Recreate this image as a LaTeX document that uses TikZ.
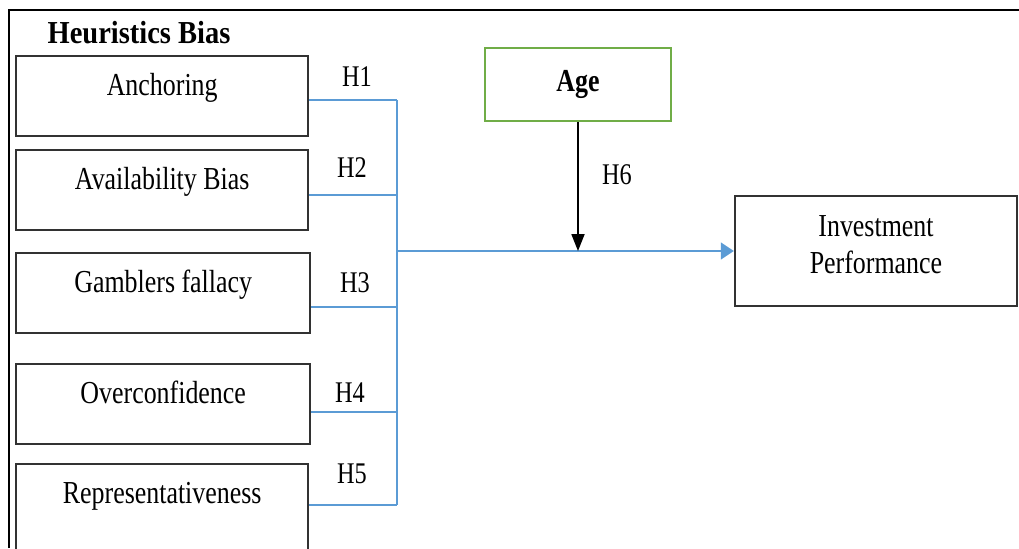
\documentclass[tikz,border=0pt]{standalone}
\usepackage{fontspec}
\setmainfont{Liberation Serif}[FakeStretch=0.81]
\newfontfamily\headfont{Liberation Serif}[FakeStretch=0.89]
\usetikzlibrary{arrows.meta}
\definecolor{linkblue}{RGB}{91,155,213}
\definecolor{agegreen}{RGB}{112,173,71}
\definecolor{boxgray}{RGB}{50,50,50}

\begin{document}
\begin{tikzpicture}[x=0.5pt,y=-0.5pt]
  \tikzstyle{bias} = [draw=boxgray,line width=1.2pt,inner sep=0pt,anchor=north west,minimum width=146pt,minimum height=40pt,text height=19.5pt,text depth=20.5pt,font=\fontsize{16}{18.5}\selectfont]
  \tikzstyle{ageV} = [draw=agegreen,line width=1.2pt,minimum width=93pt,minimum height=36.5pt,font=\bfseries\fontsize{16}{18.5}\selectfont]
  \tikzstyle{perfV} = [draw=boxgray,line width=1.2pt,minimum width=141pt,minimum height=55pt,font=\fontsize{16}{18.5}\selectfont]
  \tikzstyle{head} = [anchor=base,font=\headfont\bfseries\fontsize{16}{19}\selectfont]
  \tikzstyle{hyp}  = [anchor=base,font=\fontsize{15}{18}\selectfont]
  \tikzstyle{link} = [draw=linkblue,line width=0.8pt]
  \tikzstyle{mod}  = [draw=black,line width=0.9pt,-{Triangle[length=8.5pt,width=6.5pt]}]
  \clip (0,0) rectangle (1019,548);
  % outer frame
  \draw[line width=1pt] (9,548) -- (9,10) -- (1019,10);
  \path (139, 43) node[head](title) {Heuristics Bias};
  % bias boxes
  \path (15, 55) node[bias](hb0) {Anchoring};
  \path (15,149) node[bias](hb1) {Availability Bias};
  \path (15,252) node[bias,minimum width=147pt](hb2) {Gamblers fallacy};
  \path (15,363) node[bias,minimum width=147pt](hb3) {Overconfidence};
  \path (15,463) node[bias,text depth=30pt](hb4) {Representativeness};
  \path (578, 84.5) node[ageV](age) {Age};
  \path (876,251) node[perfV](perf) {\raisebox{1.5pt}[\height][\depth]{\begin{tabular}{@{}c@{}}Investment\\Performance\end{tabular}}};
  % bus
  \coordinate (b0) at (397,100);
  \coordinate (b1) at (397,195);
  \coordinate (b2) at (397,307);
  \coordinate (b3) at (397,412);
  \coordinate (b4) at (397,505);
  \coordinate (bm) at (397,251);
  \coordinate (hit) at (578,251);
  \draw[link] (b0) -- (b4);
  \draw[link] (hb0.east |- b0) -- (b0);
  \draw[link] (hb1.east |- b1) -- (b1);
  \draw[link] (hb2.east |- b2) -- (b2);
  \draw[link] (hb3.east |- b3) -- (b3);
  \draw[link] (hb4.east |- b4) -- (b4);
  \draw[link,-{Triangle[length=6.5pt,width=8.5pt]}] (bm) -- (perf.west);
  \draw[mod] (age.south) -- (hit);
  % hypotheses
  \path (357, 86) node[hyp](h1) {H1};
  \path (352,177) node[hyp](h2) {H2};
  \path (355,292) node[hyp](h3) {H3};
  \path (350,402) node[hyp](h4) {H4};
  \path (352,483) node[hyp](h5) {H5};
  \path (617,184) node[hyp](h6) {H6};
\end{tikzpicture}
\end{document}
